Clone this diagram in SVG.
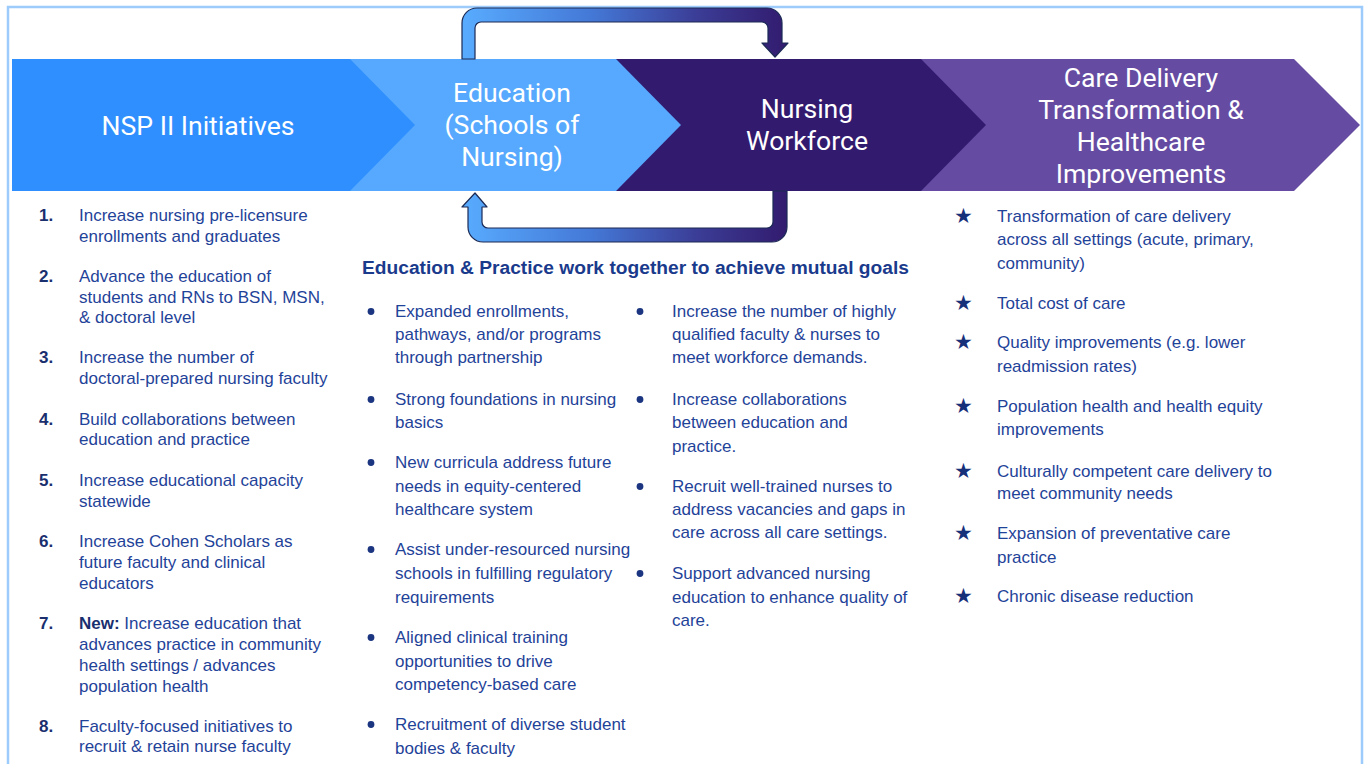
<svg xmlns="http://www.w3.org/2000/svg" width="1367" height="764" viewBox="0 0 1367 764">
  <defs>
    <linearGradient id="loopGrad" gradientUnits="userSpaceOnUse" x1="462" y1="0" x2="788" y2="0">
      <stop offset="0" stop-color="#58acff"/>
      <stop offset="0.4" stop-color="#4478d6"/>
      <stop offset="0.72" stop-color="#3b3d96"/>
      <stop offset="1" stop-color="#321b6e"/>
    </linearGradient>
  </defs>
  <style>
    .frame{fill:#ffffff;stroke:#9dcbfb;stroke-width:2.5}
    .band{font-family:Roboto,"Liberation Sans",sans-serif;font-size:26.6px;fill:#ffffff;text-anchor:middle}
    .body{font-family:"Liberation Sans",Arial,sans-serif;font-size:17px;fill:#1f4399}
    .num{font-weight:bold;fill:#1a2f6e}
    .head{font-family:"Liberation Sans",Arial,sans-serif;font-size:19.2px;font-weight:bold;fill:#1a3a8c}
    .bullet{fill:#1b3580}
    .star{font-family:"DejaVu Sans",sans-serif;font-size:21px;fill:#17307a;text-anchor:middle}
    .loop{fill:url(#loopGrad);stroke:#1c2a55;stroke-width:1.2;stroke-linejoin:round}
  </style>

  <rect x="0" y="0" width="1367" height="764" fill="#ffffff"/>
  <rect class="frame" x="8" y="7" width="1354" height="790"/>

  <!-- process band: later stages first so each chevron tip overlaps the next -->
  <g id="node-care-delivery">
    <polygon points="921,59 1294,59 1360,125 1294,191 921,191" fill="#654ca2"/>
    <text class="band"><tspan x="1141" y="87">Care Delivery</tspan><tspan x="1141" y="119">Transformation &amp;</tspan><tspan x="1141" y="151">Healthcare</tspan><tspan x="1141" y="183">Improvements</tspan></text>
  </g>
  <g id="node-nursing-workforce">
    <polygon points="616,59 921,59 986,125 921,191 616,191" fill="#321a6f"/>
    <text class="band"><tspan x="807" y="118">Nursing</tspan><tspan x="807" y="150">Workforce</tspan></text>
  </g>
  <g id="node-education">
    <polygon points="350,59 616,59 681,125 616,191 350,191" fill="#56a9fe"/>
    <text class="band"><tspan x="512" y="102">Education</tspan><tspan x="512" y="134">(Schools of</tspan><tspan x="512" y="166">Nursing)</tspan></text>
  </g>
  <g id="node-nsp">
    <polygon points="12,59 350,59 415,125 350,191 12,191" fill="#2f8ffe"/>
    <text class="band" x="198" y="135">NSP II Initiatives</text>
  </g>

  <!-- feedback loop between education and workforce -->
  <g id="connectors">
    <path class="loop" d="M462,59 L462,23 A15,15 0 0 1 477,8 L767,8 A15,15 0 0 1 782,23 L782,43 L788,43 L775,57 L762,43 L768,43 L768,28 A6,6 0 0 0 762,22 L481,22 A6,6 0 0 0 475,28 L475,59 Z"/>
    <path class="loop" d="M773,191 L773,222 A6,6 0 0 1 767,228 L488,228 A6,6 0 0 1 482,222 L482,207 L487,207 L475,193 L462,207 L468,207 L468,227 A15,15 0 0 0 483,242 L772,242 A15,15 0 0 0 787,227 L787,191 Z"/>
  </g>

  <!-- NSP II initiatives list -->
  <g id="initiatives" class="body">
    <text class="num" x="39" y="221">1.</text>
    <text><tspan x="79" y="221">Increase nursing pre-licensure</tspan><tspan x="79" y="242">enrollments and graduates</tspan></text>
    <text class="num" x="39" y="282">2.</text>
    <text><tspan x="79" y="282">Advance the education of</tspan><tspan x="79" y="303">students and RNs to BSN, MSN,</tspan><tspan x="79" y="323">&amp; doctoral level</tspan></text>
    <text class="num" x="39" y="363">3.</text>
    <text><tspan x="79" y="363">Increase the number of</tspan><tspan x="79" y="384">doctoral-prepared nursing faculty</tspan></text>
    <text class="num" x="39" y="425">4.</text>
    <text><tspan x="79" y="425">Build collaborations between</tspan><tspan x="79" y="445">education and practice</tspan></text>
    <text class="num" x="39" y="486">5.</text>
    <text><tspan x="79" y="486">Increase educational capacity</tspan><tspan x="79" y="507">statewide</tspan></text>
    <text class="num" x="39" y="547">6.</text>
    <text><tspan x="79" y="547">Increase Cohen Scholars as</tspan><tspan x="79" y="568">future faculty and clinical</tspan><tspan x="79" y="589">educators</tspan></text>
    <text class="num" x="39" y="629">7.</text>
    <text><tspan x="79" y="629" font-weight="bold" fill="#1a2f6e">New:</tspan><tspan> Increase education that</tspan><tspan x="79" y="650">advances practice in community</tspan><tspan x="79" y="671">health settings / advances</tspan><tspan x="79" y="692">population health</tspan></text>
    <text class="num" x="39" y="732">8.</text>
    <text><tspan x="79" y="732">Faculty-focused initiatives to</tspan><tspan x="79" y="752">recruit &amp; retain nurse faculty</tspan></text>
  </g>

  <!-- shared goals of education and practice -->
  <g id="mutual-goals" class="body">
    <text class="head" x="362" y="274">Education &amp; Practice work together to achieve mutual goals</text>
    <g class="bullet">
      <circle cx="371" cy="311.5" r="3.4"/>
      <circle cx="371" cy="399.5" r="3.4"/>
      <circle cx="371" cy="462.5" r="3.4"/>
      <circle cx="371" cy="549.5" r="3.4"/>
      <circle cx="371" cy="637.5" r="3.4"/>
      <circle cx="371" cy="724.5" r="3.4"/>
      <circle cx="640" cy="311.5" r="3.4"/>
      <circle cx="640" cy="399.5" r="3.4"/>
      <circle cx="640" cy="486.5" r="3.4"/>
      <circle cx="640" cy="573.5" r="3.4"/>
    </g>
    <text><tspan x="395" y="317">Expanded enrollments,</tspan><tspan x="395" y="340">pathways, and/or programs</tspan><tspan x="395" y="363">through partnership</tspan></text>
    <text><tspan x="395" y="405">Strong foundations in nursing</tspan><tspan x="395" y="428">basics</tspan></text>
    <text><tspan x="395" y="468">New curricula address future</tspan><tspan x="395" y="492">needs in equity-centered</tspan><tspan x="395" y="515">healthcare system</tspan></text>
    <text><tspan x="395" y="555">Assist under-resourced nursing</tspan><tspan x="395" y="579">schools in fulfilling regulatory</tspan><tspan x="395" y="603">requirements</tspan></text>
    <text><tspan x="395" y="643">Aligned clinical training</tspan><tspan x="395" y="667">opportunities to drive</tspan><tspan x="395" y="690">competency-based care</tspan></text>
    <text><tspan x="395" y="730">Recruitment of diverse student</tspan><tspan x="395" y="754">bodies &amp; faculty</tspan></text>

    <text><tspan x="672" y="317">Increase the number of highly</tspan><tspan x="672" y="340">qualified faculty &amp; nurses to</tspan><tspan x="672" y="363">meet workforce demands.</tspan></text>
    <text><tspan x="672" y="405">Increase collaborations</tspan><tspan x="672" y="428">between education and</tspan><tspan x="672" y="452">practice.</tspan></text>
    <text><tspan x="672" y="492">Recruit well-trained nurses to</tspan><tspan x="672" y="515">address vacancies and gaps in</tspan><tspan x="672" y="538">care across all care settings.</tspan></text>
    <text><tspan x="672" y="579">Support advanced nursing</tspan><tspan x="672" y="603">education to enhance quality of</tspan><tspan x="672" y="626">care.</tspan></text>
  </g>

  <!-- care delivery outcomes -->
  <g id="outcomes" class="body">
    <text class="star" x="963.5" y="223">★</text>
    <text><tspan x="997" y="222">Transformation of care delivery</tspan><tspan x="997" y="245">across all settings (acute, primary,</tspan><tspan x="997" y="269">community)</tspan></text>
    <text class="star" x="963.5" y="310">★</text>
    <text x="997" y="309">Total cost of care</text>
    <text class="star" x="963.5" y="349">★</text>
    <text><tspan x="997" y="348">Quality improvements (e.g. lower</tspan><tspan x="997" y="372">readmission rates)</tspan></text>
    <text class="star" x="963.5" y="413">★</text>
    <text><tspan x="997" y="412">Population health and health equity</tspan><tspan x="997" y="435">improvements</tspan></text>
    <text class="star" x="963.5" y="478">★</text>
    <text><tspan x="997" y="477">Culturally competent care delivery to</tspan><tspan x="997" y="499">meet community needs</tspan></text>
    <text class="star" x="963.5" y="540">★</text>
    <text><tspan x="997" y="539">Expansion of preventative care</tspan><tspan x="997" y="563">practice</tspan></text>
    <text class="star" x="963.5" y="603">★</text>
    <text x="997" y="602">Chronic disease reduction</text>
  </g>
</svg>
